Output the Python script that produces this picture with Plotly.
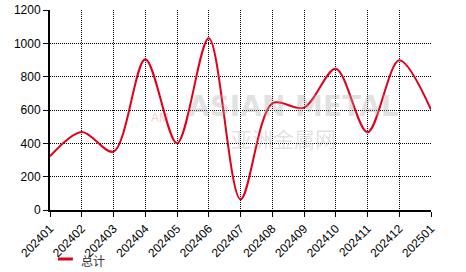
import plotly.graph_objects as go

months = ["202401", "202402", "202403", "202404", "202405", "202406", "202407",
          "202408", "202409", "202410", "202411", "202412", "202501"]
totals = [322, 468, 350, 905, 400, 1030, 64, 640, 614, 848, 466, 898, 602]
series_name = "总计"
y_ticks = [0, 200, 400, 600, 800, 1000, 1200]
line_color = "#e0001b"

xs = list(range(len(months)))

fig = go.Figure()
fig.add_trace(go.Scatter(
    x=xs, y=totals, mode="lines", name=series_name, showlegend=False,
    line=dict(color=line_color, width=2, shape="spline", smoothing=0.9),
))

# watermark
fig.add_annotation(x=0.638, y=0.52, xref="paper", yref="paper", text="<b>ASIAN METAL</b>",
                   showarrow=False, font=dict(size=28, color="rgba(170,170,170,0.35)", family="DejaVu Sans"))
fig.add_annotation(x=0.614, y=0.36, xref="paper", yref="paper", text="亚洲金属网",
                   showarrow=False, font=dict(size=21, color="rgba(170,170,170,0.35)", family="Noto Sans CJK SC"))
fig.add_annotation(x=0.26, y=0.46, xref="paper", yref="paper", text="AM",
                   showarrow=False, font=dict(size=12, color="rgba(230,80,80,0.3)", family="Arial"))

# legend (drawn manually to match the short swatch)
fig.add_shape(type="line", xref="paper", yref="paper", x0=0.021, x1=0.060, y0=-0.245, y1=-0.245,
              line=dict(color=line_color, width=3))
fig.add_annotation(x=0.075, y=-0.25, xref="paper", yref="paper", text=series_name,
                   showarrow=False, xanchor="left", yanchor="middle",
                   font=dict(size=12, color="#333", family="Noto Sans CJK SC"))

fig.update_layout(
    width=466, height=272,
    margin=dict(l=50, r=35, t=10, b=62, autoexpand=False),
    paper_bgcolor="white", plot_bgcolor="white",
    font=dict(family="Arial, Liberation Sans, sans-serif", size=12, color="black"),
    showlegend=False,
)
fig.update_xaxes(
    range=[0, 12], tickmode="array", tickvals=xs, ticktext=months, tickangle=-45,
    showgrid=True, gridcolor="black", griddash="1px,1px", gridwidth=1,
    showline=True, linecolor="black", linewidth=2,
    ticks="outside", ticklen=5, tickcolor="black", tickwidth=1,
    zeroline=False, automargin=False,
)
fig.update_yaxes(
    range=[0, 1200], tickmode="array", tickvals=y_ticks,
    showgrid=True, gridcolor="black", griddash="1px,1px", gridwidth=1,
    showline=True, linecolor="black", linewidth=2,
    ticks="outside", ticklen=5, tickcolor="black", tickwidth=1,
    zeroline=False, automargin=False,
)

fig.write_html("out.html")
